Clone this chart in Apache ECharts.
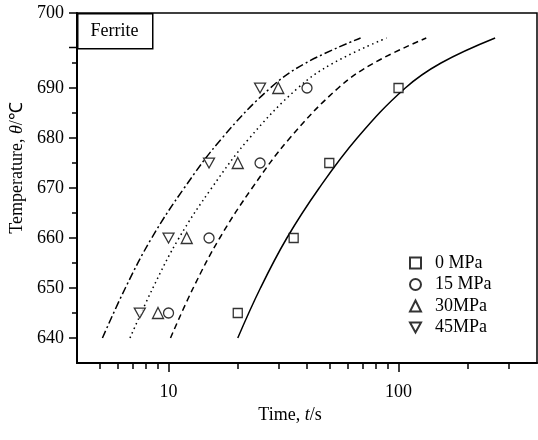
<!DOCTYPE html>
<html><head><meta charset="utf-8">
<script src="https://cdn.jsdelivr.net/npm/echarts@6/dist/echarts.min.js"></script>
<style>html,body{margin:0;padding:0;background:#fff}#c{width:538px;height:440px}</style>
</head><body><div id="c"></div>
<script>
// ---- data ----
const temps = [645, 660, 675, 690];
const t0MPa = [20, 35, 50, 100];
const t15MPa = [10, 15, 25, 40];
const t30MPa = [9, 12, 20, 30];
const t45MPa = [7.5, 10, 15, 25];
const seriesNames = ['0 MPa', '15 MPa', '30MPa', '45MPa'];
// fitted curves [time, temperature]
const fit0 = [[20,640],[25.1,650],[32.7,660],[45.2,670],[66.1,680],[107,690],[153,695],[263,700]];
const fit15 = [[10.2,640],[12.8,650],[16.7,660],[23.1,670],[33.7,680],[54.7,690],[78.2,695],[132,700]];
const fit30 = [[6.8,640],[8.55,650],[11.1,660],[15.4,670],[22.5,680],[36.5,690],[52.1,695],[88.7,700]];
const fit45 = [[5.16,640],[6.49,650],[8.45,660],[11.7,670],[17.1,680],[27.7,690],[39.5,695],[68.4,700]];
const yMajor = [640, 650, 660, 670, 680, 690, 705];
const yMinor = [645, 655, 665, 675, 685, 695];
const xMajor = [10, 100];
const xMinor = [5, 6, 7, 8, 9, 20, 30, 40, 50, 60, 70, 80, 90, 200, 300];
const panelLabel = 'Ferrite';

const FONT = '"Liberation Serif", "Times New Roman", serif';
const pairs = (ts) => ts.map((t, i) => [t, temps[i]]);
const downTri = 'path://M0,0 L10,0 L5,9 Z';
const symbols = ['rect', 'circle', 'triangle', downTri];
const sizes = [9, 10, 11, 11];
const timesArr = [t0MPa, t15MPa, t30MPa, t45MPa];
const fits = [fit0, fit15, fit30, fit45];
const dashes = ['solid', [6, 4], [1.5, 3.5], [8, 3, 2, 3]];

const series = [];
fits.forEach((f, i) => {
  series.push({
    type: 'line', data: f, smooth: 0.4, symbol: 'none', silent: true,
    lineStyle: { color: '#000', width: 1.5, type: dashes[i] }, z: 2
  });
});
timesArr.forEach((ts, i) => {
  series.push({
    name: seriesNames[i], type: 'scatter', data: pairs(ts),
    symbol: symbols[i], symbolSize: sizes[i], symbolKeepAspect: true,
    itemStyle: { color: '#fff', borderColor: '#000', borderWidth: 1.3 }, z: 3
  });
});

const chart = echarts.init(document.getElementById('c'));
chart.setOption({
  animation: false,
  backgroundColor: '#fff',
  grid: { left: 77, right: 1, top: 13, bottom: 77, show: true, borderColor: '#000', borderWidth: 1.5 },
  legend: {
    data: seriesNames, orient: 'vertical', left: 404, top: 249,
    itemWidth: 11, itemHeight: 11, itemGap: 3.5,
    textStyle: { fontFamily: FONT, fontSize: 18, color: '#000', lineHeight: 18, padding: [0, 0, 0, 9] }
  },
  xAxis: [
    {
      type: 'log', logBase: 10, min: 4, max: 400,
      name: 'Time, {i|t}/s', nameLocation: 'middle', nameGap: 43,
      nameTextStyle: { fontFamily: FONT, fontSize: 18, color: '#000', padding: [0, 34, 0, 0],
        rich: { i: { fontFamily: FONT, fontSize: 18, fontStyle: 'italic', color: '#000' } } },
      axisLine: { lineStyle: { color: '#000', width: 2 } },
      axisTick: { customValues: xMajor, length: 9, lineStyle: { color: '#000', width: 1.5 } },
      axisLabel: { customValues: xMajor, fontFamily: FONT, fontSize: 18, color: '#000', margin: 20 },
      splitLine: { show: false }, minorTick: { show: false }
    },
    {
      type: 'log', logBase: 10, min: 4, max: 400, position: 'bottom',
      axisLine: { show: false },
      axisTick: { customValues: xMinor, length: 6, lineStyle: { color: '#000', width: 1.5 } },
      axisLabel: { show: false }, splitLine: { show: false }
    }
  ],
  yAxis: [
    {
      type: 'value', min: 635, max: 705,
      name: 'Temperature, {i|θ}/℃', nameLocation: 'middle', nameGap: 50, nameRotate: 90,
      nameTextStyle: { fontFamily: FONT, fontSize: 18, color: '#000', padding: [0, 0, 0, 40],
        rich: { i: { fontFamily: FONT, fontSize: 18, fontStyle: 'italic', color: '#000' } } },
      axisLine: { show: true, lineStyle: { color: '#000', width: 2 } },
      axisTick: { show: true, customValues: yMajor, length: 8, lineStyle: { color: '#000', width: 1.5 } },
      axisLabel: { customValues: yMajor, fontFamily: FONT, fontSize: 18, color: '#000', margin: 13,
        formatter: v => (v === 705 ? '700' : String(v)) },
      splitLine: { show: false }
    },
    {
      type: 'value', min: 635, max: 705, position: 'left',
      axisLine: { show: false },
      axisTick: { show: true, customValues: yMinor, length: 5, lineStyle: { color: '#000', width: 1.5 } },
      axisLabel: { show: false }, splitLine: { show: false }
    }
  ],
  graphic: [
    { type: 'rect', left: 77, top: 13, shape: { width: 75, height: 35 },
      style: { fill: '#fff', stroke: '#000', lineWidth: 1.5 }, z: 10 },
    { type: 'line', shape: { x1: 69, y1: 47.5, x2: 77, y2: 47.5 }, style: { stroke: '#000', lineWidth: 1.5 }, z: 10 },
    { type: 'text', x: 114.5, y: 31, style: { text: panelLabel, font: '18px ' + FONT, fill: '#000',
      textAlign: 'center', textVerticalAlign: 'middle' }, z: 11 }
  ],
  series: series
});
</script></body></html>
